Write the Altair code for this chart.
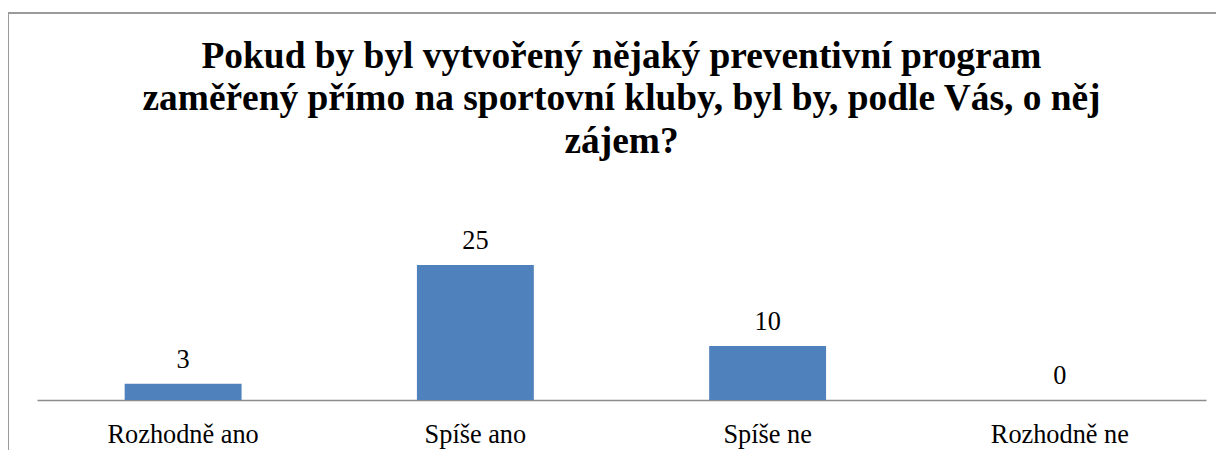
import altair as alt
import pandas as pd

categories = ["Rozhodně ano", "Spíše ano", "Spíše ne", "Rozhodně ne"]
values = [3, 25, 10, 0]
title_lines = [
    "Pokud by byl vytvořený nějaký preventivní program",
    "zaměřený přímo na sportovní kluby, byl by, podle Vás, o něj",
    "zájem?",
]

df = pd.DataFrame({"cat": categories, "val": values})

W, H = 1169, 162
FONT = "Liberation Serif, Times New Roman, serif"

x = alt.X("cat:N", sort=categories, title=None,
          scale=alt.Scale(paddingInner=0.6, paddingOuter=0.3),
          axis=alt.Axis(labelAngle=0, labelFont=FONT, labelFontSize=26.3,
                        labelColor="black", labelPadding=21, ticks=False,
                        domainColor="#8c8c8c", domainWidth=1.5))
y = alt.Y("val:Q", title=None, scale=alt.Scale(domain=[0, 30]), axis=None)

base = alt.Chart(df)
bars = base.mark_bar(color="#4F81BD").encode(x=x, y=y)
labels = base.mark_text(font=FONT, fontSize=26.3, color="black",
                        baseline="alphabetic", dy=-16).encode(
    x=alt.X("cat:N", sort=categories), y="val:Q", text="val:Q")

frame_left = alt.Chart(df).mark_rule(color="#9a9a9a", strokeWidth=1.5).encode(
    x=alt.value(-29), y=alt.value(-225), y2=alt.value(H + 60))
frame_top = alt.Chart(df).mark_rule(color="#9a9a9a", strokeWidth=1.5).encode(
    x=alt.value(-29), x2=alt.value(W + 20), y=alt.value(-225))

title_df = pd.DataFrame({"line": title_lines})
title_y = [-170, -128, -85]
title_layers = [
    alt.Chart(title_df).transform_filter(alt.datum.line == t).mark_text(
        font=FONT, fontSize=37.4, fontWeight="bold", color="black",
        baseline="alphabetic", align="center").encode(
        x=alt.value(W / 2), y=alt.value(ty), text="line:N")
    for t, ty in zip(title_lines, title_y)
]

chart = alt.layer(frame_left, frame_top, bars, labels, *title_layers).properties(
    width=W, height=H,
    autosize=alt.AutoSizeParams(type="none"),
    padding={"left": 29, "top": 230, "right": 10, "bottom": 50},
).configure_view(stroke=None)

chart.save("out.html", embed_options={"renderer": "svg", "actions": False})
